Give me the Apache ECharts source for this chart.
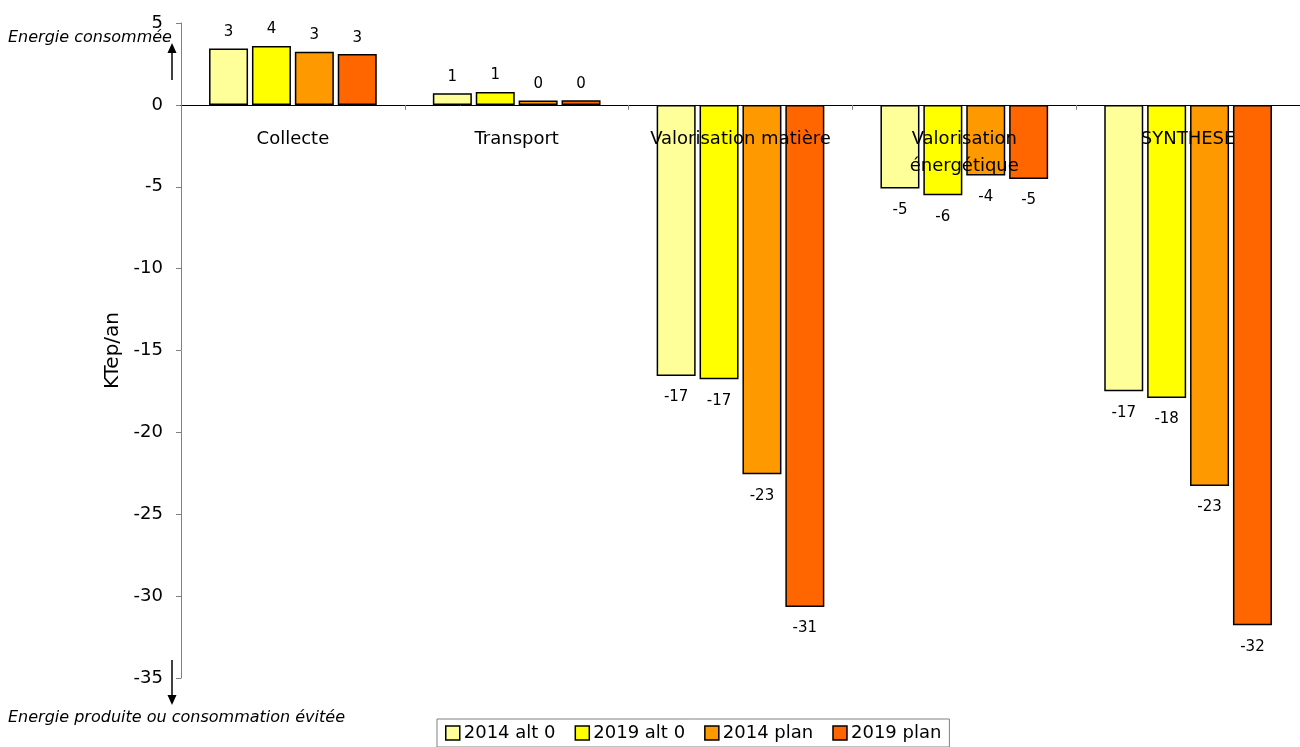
<!DOCTYPE html>
<html>
<head>
<meta charset="utf-8">
<script src="https://cdn.jsdelivr.net/npm/echarts@6/dist/echarts.min.js"></script>
<style>
html,body{margin:0;padding:0;background:#fff;}
#chart{width:1300px;height:747px;}
</style>
</head>
<body>
<div id="chart"></div>
<script>
const categories = ['Collecte', 'Transport', 'Valorisation matière', 'Valorisation\nénergétique', 'SYNTHESE'];
const seriesNames = ['2014 alt 0', '2019 alt 0', '2014 plan', '2019 plan'];
const alt0_2014 = [3.45, 0.71, -16.55, -5.11, -17.49];
const alt0_2019 = [3.6, 0.78, -16.75, -5.52, -17.9];
const plan_2014 = [3.25, 0.26, -22.55, -4.32, -23.27];
const plan_2019 = [3.1, 0.29, -30.66, -4.52, -31.78];
const yTicks = {min: -35, max: 5, interval: 5};
const yName = 'KTep/an';
const noteTop = 'Energie consommée';
const noteBottom = 'Energie produite ou consommation évitée';

const colors = ['#FFFF99', '#FFFF00', '#FF9900', '#FF6600'];
const values = [alt0_2014, alt0_2019, plan_2014, plan_2019];
const FONT = 'DejaVu Sans';

const GRID_TOP = 23, GRID_BOTTOM = 69, H = 747;
const plotH = H - GRID_TOP - GRID_BOTTOM;
const zeroOffset = plotH * (0 - yTicks.min) / (yTicks.max - yTicks.min);

const chart = echarts.init(document.getElementById('chart'));
const series = seriesNames.map((name, i) => ({
  name: name,
  type: 'bar',
  data: values[i].map(v => ({value: v, label: {distance: v < 0 ? 14 : 9}})),
  barWidth: 39,
  barGap: '10%',
  itemStyle: {color: colors[i], borderColor: '#000', borderWidth: 1.5},
  label: {
    show: true,
    position: 'outside',
    color: '#000',
    fontFamily: FONT,
    fontSize: 15,
    formatter: p => String(Math.round(p.value))
  }
}));

chart.setOption({
  animation: false,
  backgroundColor: '#fff',
  grid: {left: 181, right: -9, top: GRID_TOP, bottom: GRID_BOTTOM, containLabel: false},
  legend: {
    data: seriesNames,
    left: 437,
    top: 719,
    padding: [5, 8, 5, 8],
    itemGap: 19,
    itemWidth: 14,
    itemHeight: 14,
    icon: 'rect',
    borderColor: '#808080',
    borderWidth: 1,
    itemStyle: {borderColor: '#000', borderWidth: 1.5},
    textStyle: {fontFamily: FONT, fontSize: 18, color: '#000', padding: [0, 0, 0, -1]}
  },
  xAxis: {
    type: 'category',
    data: categories,
    z: 5,
    position: 'bottom',
    offset: -zeroOffset,
    axisLine: {onZero: false, lineStyle: {color: '#000', width: 1}},
    axisTick: {show: true, length: 5, lineStyle: {color: '#808080'}},
    axisLabel: {
      interval: 0,
      margin: 21,
      color: '#000',
      fontFamily: FONT,
      fontSize: 18,
      lineHeight: 27,
      verticalAlign: 'top'
    },
    splitLine: {show: false}
  },
  yAxis: {
    type: 'value',
    min: yTicks.min,
    max: yTicks.max,
    interval: yTicks.interval,
    name: yName,
    nameLocation: 'middle',
    nameGap: 54,
    nameRotate: 90,
    nameTextStyle: {fontFamily: FONT, fontSize: 20, color: '#000'},
    axisLine: {show: true, onZero: false, lineStyle: {color: '#808080', width: 1}},
    axisTick: {show: true, inside: false, length: 5, lineStyle: {color: '#808080'}},
    axisLabel: {color: '#000', fontFamily: FONT, fontSize: 18, margin: 18},
    splitLine: {show: false}
  },
  graphic: [
    {type: 'text', left: 8, top: 30, style: {text: noteTop, font: 'italic 16px "DejaVu Sans"', fill: '#000'}},
    {type: 'line', shape: {x1: 172, y1: 80, x2: 172, y2: 50}, style: {stroke: '#000', lineWidth: 1.5}},
    {type: 'polygon', shape: {points: [[172, 43], [167.5, 53], [176.5, 53]]}, style: {fill: '#000'}},
    {type: 'line', shape: {x1: 172, y1: 660, x2: 172, y2: 698}, style: {stroke: '#000', lineWidth: 1.5}},
    {type: 'polygon', shape: {points: [[172, 705], [167.5, 695], [176.5, 695]]}, style: {fill: '#000'}},
    {type: 'text', left: 8, top: 710, style: {text: noteBottom, font: 'italic 16px "DejaVu Sans"', fill: '#000'}}
  ],
  series: series
});
</script>
</body>
</html>
